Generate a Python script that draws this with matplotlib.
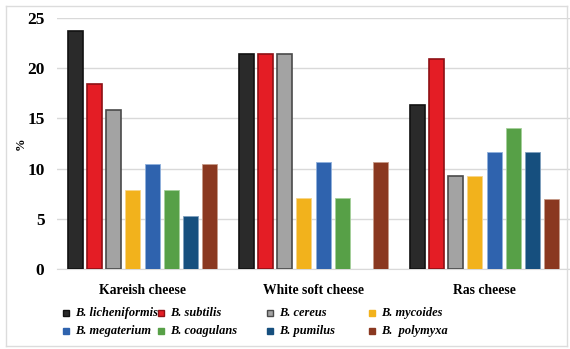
import matplotlib.pyplot as plt
import numpy as np
from matplotlib.lines import Line2D

cheeses = ['Kareish cheese', 'White soft cheese', 'Ras cheese']
species = ['B. licheniformis', 'B. subtilis', 'B. cereus', 'B. mycoides',
           'B. megaterium', 'B. coagulans', 'B. pumilus', 'B.  polymyxa']

# percentage of isolates per species in each cheese type
licheniformis = [23.7, 21.4, 16.3]
subtilis = [18.4, 21.4, 20.9]
cereus = [15.8, 21.4, 9.3]
mycoides = [7.9, 7.1, 9.3]
megaterium = [10.5, 10.7, 11.6]
coagulans = [7.9, 7.1, 14.0]
pumilus = [5.3, 0.0, 11.6]
polymyxa = [10.5, 10.7, 7.0]

series = [licheniformis, subtilis, cereus, mycoides, megaterium, coagulans, pumilus, polymyxa]
colors = ['#2a2a2a', '#e41d25', '#a3a3a3', '#f2b21c', '#2f63ae', '#57a047', '#164f7e', '#8a3820']
edges = ['#111111', '#8e1015', '#4a4a4a', '#f7d58a', '#8fb0dc', '#a5d09a', '#7f9fbd', '#c69a88']

plt.rcParams['font.family'] = ['Liberation Serif', 'DejaVu Serif']

W, H = 570, 349
fig = plt.figure(figsize=(W / 100, H / 100), dpi=100)
ax = fig.add_axes([0.1, 0.229, 0.9, 0.72])

x = np.arange(len(cheeses))
pitch = 0.112
width = 0.087
for i, vals in enumerate(series):
    pos = x + (i - 3.5) * pitch
    lw = 1.2 if i < 3 else 0.6
    ax.bar(pos, vals, width, color=colors[i], edgecolor=edges[i], linewidth=lw, zorder=3)

ax.set_xlim(-0.5, 2.5)
ax.set_ylim(0, 25)
ax.set_yticks(np.arange(0, 26, 5))
ax.set_xticks(x)
ax.set_xticklabels(cheeses, fontweight='bold', fontsize=9.8)
ax.tick_params(axis='x', length=0, pad=11)
ax.tick_params(axis='y', length=0, pad=9, labelsize=12.5)
for lab in ax.get_yticklabels():
    lab.set_fontweight('bold')
ax.grid(axis='y', color='#d9d9d9', linewidth=1, zorder=0)
for s in ['top', 'right', 'left']:
    ax.spines[s].set_visible(False)
ax.spines['bottom'].set_color('#d9d9d9')
fig.text(21 / W, 1 - 144 / H, '%', rotation=90, fontweight='bold', fontsize=9,
         ha='center', va='center')

# legend laid out as two rows of four fixed-width columns
col_x = [66, 161, 270, 372]
row_y = [313, 331]
for i, name in enumerate(species):
    cx = col_x[i % 4] / W
    cy = 1 - row_y[i // 4] / H
    fig.add_artist(Line2D([cx], [cy], marker='s', markersize=5, linestyle='none',
                          markerfacecolor=colors[i],
                          markeredgecolor=edges[i] if i < 3 else colors[i],
                          transform=fig.transFigure))
    fig.text(cx + 9 / W, cy, name, style='italic', fontweight='bold', fontsize=8.9,
             ha='left', va='center')

# light outer frame
fl, fr, ft, fb = 6 / W, 567 / W, 1 - 6 / H, 1 - 346 / H
for xs, ys in [([fl, fr], [ft, ft]), ([fr, fr], [fb, ft]), ([fl, fr], [fb, fb]), ([fl, fl], [fb, ft])]:
    fig.add_artist(Line2D(xs, ys, color='#dcdcdc', lw=1, transform=fig.transFigure))

fig.savefig('out.png', dpi=100)
